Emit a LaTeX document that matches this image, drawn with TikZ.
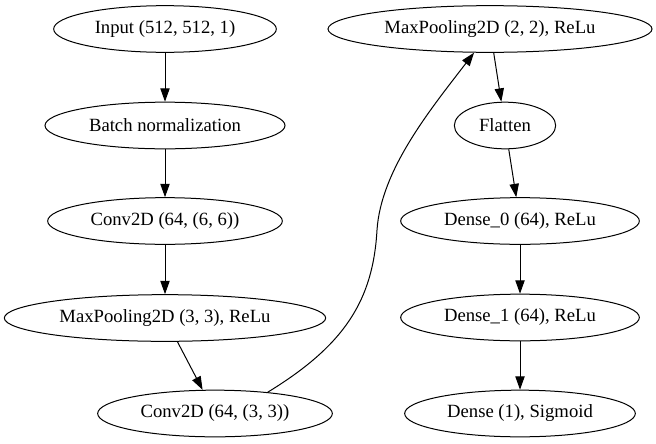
\documentclass[tikz,border=0pt]{standalone}
\usepackage{fontspec}
\setmainfont{Liberation Serif}
\usetikzlibrary{arrows.meta,shapes.geometric}

\tikzstyle{layer}=[ellipse,draw,line width=0.75pt,minimum height=35pt,inner sep=0pt,font=\fontsize{14pt}{16pt}\selectfont]
\tikzstyle{edge} = [draw,line width=0.75pt,-]

\begin{document}
\begin{tikzpicture}[x=0.75pt, y=-0.75pt, ->, >={Triangle[length=10pt,width=7pt]}, line width=0.75pt]
		\useasboundingbox (0,0) rectangle (656,443);
		\node [layer, minimum width=167pt] (input)     at (165, 29)    {Input (512, 512, 1)};
		\node [layer, minimum width=180pt] (batchnorm) at (165, 125.5) {Batch normalization};
		\node [layer, minimum width=176pt] (conv1)     at (165, 221)   {Conv2D (64, (6, 6))};
		\node [layer, minimum width=241pt] (pool1)     at (165, 318)   {MaxPooling2D (3, 3), ReLu};
		\node [layer, minimum width=176pt] (conv2)     at (215, 413.5) {Conv2D (64, (3, 3))};
		\node [layer, minimum width=243pt] (pool2)     at (490, 29)    {MaxPooling2D (2, 2), ReLu};
		\node [layer, minimum width=76pt]  (flatten)   at (505, 125.5) {Flatten};
		\node [layer, minimum width=179pt] (dense0)    at (520, 221)   {Dense\_0 (64), ReLu};
		\node [layer, minimum width=179pt] (dense1)    at (520, 317.5) {Dense\_1 (64), ReLu};
		\node [layer, minimum width=173pt] (dense2)    at (520, 413.5) {Dense (1), Sigmoid};
		\coordinate (bend) at (377, 230);

		\draw (input)     edge (batchnorm);
		\draw (batchnorm) edge (conv1);
		\draw (conv1)     edge (pool1);
		\draw (pool1)     edge (conv2);
		\draw (conv2.22) .. controls (345, 345) and (373, 300) .. (bend)
		                 .. controls (381, 170) and (430, 110) .. (pool2.236);
		\draw (pool2)     edge (flatten);
		\draw (flatten)   edge (dense0);
		\draw (dense0)    edge (dense1);
		\draw (dense1)    edge (dense2);
	\end{tikzpicture}
\end{document}
